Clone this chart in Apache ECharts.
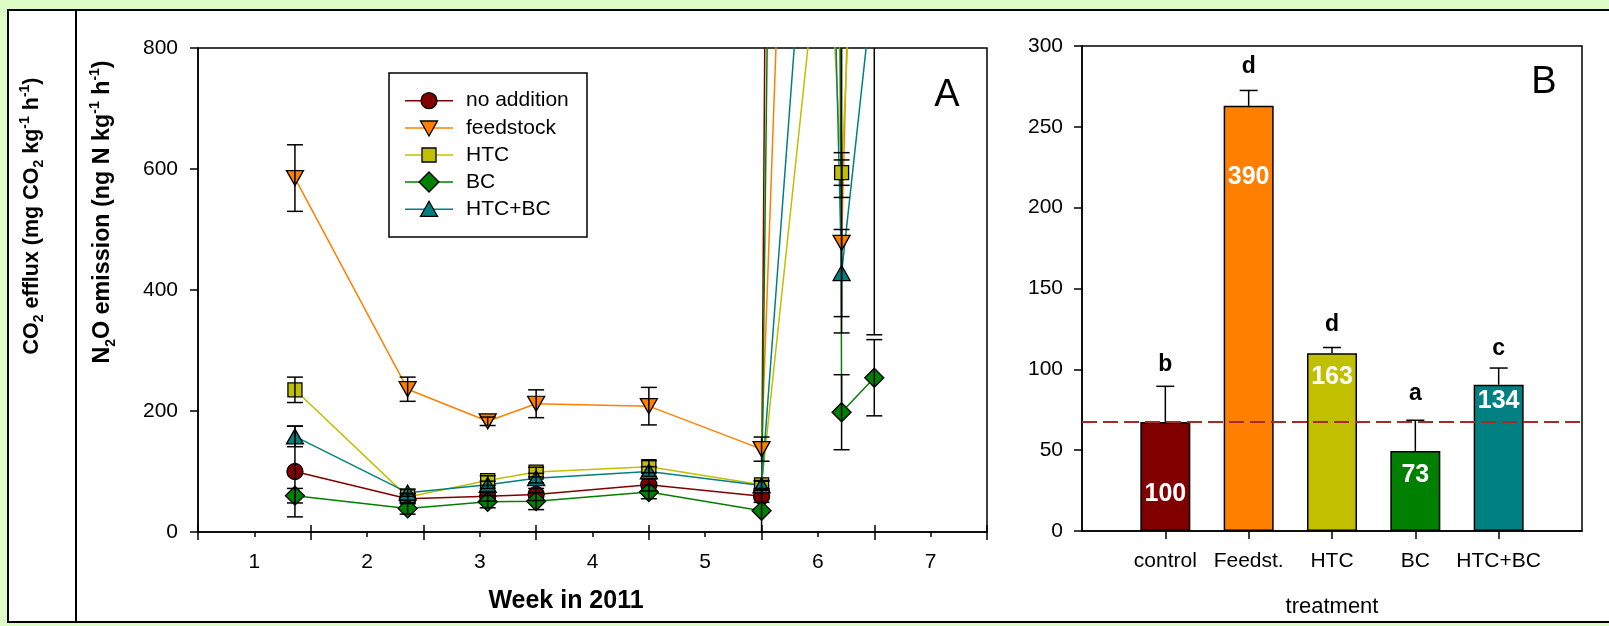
<!DOCTYPE html>
<html>
<head>
<meta charset="utf-8">
<script src="https://cdn.jsdelivr.net/npm/echarts@6/dist/echarts.min.js"></script>
<style>
  html, body { margin: 0; padding: 0; background: #ddfcc6; }
  #chart { width: 1609px; height: 626px; }
</style>
</head>
<body>
<div id="chart"></div>
<script>
// ---------- Panel A: N2O emission over time ----------
const weeks = [1.36, 2.36, 3.07, 3.5, 4.5, 5.5, 6.07, 6.21, 6.5];
const weekTicks = [1, 2, 3, 4, 5, 6, 7];
const halfWeekTicks = [0.5, 1.5, 2.5, 3.5, 4.5, 5.5, 6.5, 7.5];
const n2oTicks = [0, 200, 400, 600, 800];

const seriesNames = ['no addition', 'feedstock', 'HTC', 'BC', 'HTC+BC'];
const noAddition    = [100, 55, 59, 62, 78, 59, 15000, 1150, 1000];
const feedstock     = [585, 236, 183, 212, 208, 137, 3100, 478, 2530];
const htc           = [235, 58, 85, 99, 108, 78, 1080, 594, 1760];
const bc            = [60, 39, 50, 51, 66, 35, 8900, 198, 255];
const htcBc         = [158, 65, 78, 89, 100, 77, 1500, 428, 924];

const noAdditionErr = [75, 8, 8, 10, 10, 10, 0, 597, 0];
const feedstockErr  = [55, 20, 7, 23, 31, 20, 0, 149, 0];
const htcErr        = [21, 6, 8, 8, 10, 6, 0, 21, 0];
const bcErr         = [12, 9.5, 10, 14, 11, 36, 0, 62, 63];
const htcBcErr      = [17, 6, 6, 8, 8, 8, 0, 72, 598];

// ---------- Panel B: CO2 efflux by treatment ----------
const treatments = ['control', 'Feedst.', 'HTC', 'BC', 'HTC+BC'];
const co2Mean    = [67.5, 263, 110, 49.5, 90.5];
const co2Err     = [22, 9.5, 3.5, 19, 10.3];
const relPercent = ['100', '390', '163', '73', '134'];
const sigLetters = ['b', 'd', 'd', 'a', 'c'];
const co2Ticks   = [0, 50, 100, 150, 200, 250, 300];

// ---------- styling ----------
const FONT = "'Liberation Sans', Arial, Helvetica, sans-serif";
const colors = ['#800000', '#ff8000', '#c0c000', '#008000', '#008080'];
const symbols = ['circle', 'triangle', 'rect', 'diamond', 'triangle'];
const symbolSizes = [16, [17, 15], 14, 19, [17, 15]];
const symbolRotates = [0, 180, 0, 0, 0];
const pctDrop = [72, 71, 24, 24, 16];      // px below bar top for the percentage label
const letterLift = [22, 24, 23, 27, 19];   // px above error cap for the letter centre

const n2oSeries = [noAddition, feedstock, htc, bc, htcBc];
const n2oErrors = [noAdditionErr, feedstockErr, htcErr, bcErr, htcBcErr];

const chart = echarts.init(document.getElementById('chart'), null, { renderer: 'canvas' });

const axisLine = { show: true, lineStyle: { color: '#000', width: 1.5 } };
const tickLabel = { color: '#000', fontSize: 21, fontFamily: FONT };

// error bars for panel A: [week, value, halfWidth]
const errData = [];
n2oSeries.forEach((vals, s) => {
  vals.forEach((v, i) => {
    if (n2oErrors[s][i] > 0) errData.push([weeks[i], v, n2oErrors[s][i]]);
  });
});

function errorBarItem(params, api) {
  const x = api.value(0), y = api.value(1), e = api.value(2);
  const hi = api.coord([x, y + e]);
  const lo = api.coord([x, y - e]);
  const hw = 8;
  const st = { stroke: '#000', lineWidth: 1.5 };
  return {
    type: 'group',
    children: [
      { type: 'line', shape: { x1: hi[0], y1: hi[1], x2: lo[0], y2: lo[1] }, style: st },
      { type: 'line', shape: { x1: hi[0] - hw, y1: hi[1], x2: hi[0] + hw, y2: hi[1] }, style: st },
      { type: 'line', shape: { x1: lo[0] - hw, y1: lo[1], x2: lo[0] + hw, y2: lo[1] }, style: st }
    ]
  };
}

function barAnnotation(params, api) {
  const i = params.dataIndex;
  const pos = api.value(0), mean = api.value(1), err = api.value(2);
  const top = api.coord([pos, mean]);
  const cap = api.coord([pos, mean + err]);
  const st = { stroke: '#000', lineWidth: 1.5 };
  return {
    type: 'group',
    children: [
      { type: 'line', shape: { x1: top[0], y1: top[1], x2: cap[0], y2: cap[1] }, style: st },
      { type: 'line', shape: { x1: cap[0] - 9, y1: cap[1], x2: cap[0] + 9, y2: cap[1] }, style: st },
      { type: 'text', x: cap[0], y: cap[1] - letterLift[i],
        style: { text: sigLetters[i], fill: '#000', font: 'bold 23px ' + FONT, align: 'center', verticalAlign: 'middle' } },
      { type: 'text', x: top[0], y: top[1] + pctDrop[i],
        style: { text: relPercent[i], fill: '#fff', font: 'bold 25px ' + FONT, align: 'center', verticalAlign: 'middle' } }
    ]
  };
}

const lineSeries = seriesNames.map((name, s) => ({
  name,
  type: 'line',
  xAxisIndex: 0,
  yAxisIndex: 0,
  data: weeks.map((w, i) => [w, n2oSeries[s][i]]),
  clip: true,
  z: 3,
  symbol: symbols[s],
  symbolSize: symbolSizes[s],
  symbolRotate: symbolRotates[s],
  showSymbol: true,
  color: colors[s],
  lineStyle: { color: colors[s], width: 1.5 },
  itemStyle: { color: colors[s], borderColor: '#000', borderWidth: 1.3 },
  emphasis: { disabled: true }
}));

// rich-text pieces for the rotated axis titles
function titleRich(size) {
  return {
    b:   { fontSize: size, fontWeight: 'bold', fontFamily: FONT, lineHeight: size + 6, fill: '#000' },
    sub: { fontSize: 14, fontWeight: 'bold', fontFamily: FONT, lineHeight: 14, verticalAlign: 'bottom', fill: '#000' },
    sup: { fontSize: 14, fontWeight: 'bold', fontFamily: FONT, lineHeight: 14, verticalAlign: 'top', fill: '#000' }
  };
}

// manual legend for panel A
const legendRows = [100.7, 128, 155, 182, 209.3];
const legendChildren = [
  { type: 'rect', shape: { x: 389, y: 73, width: 198, height: 164 },
    style: { fill: '#fff', stroke: '#000', lineWidth: 1.5 } }
];
seriesNames.forEach((name, s) => {
  const y = legendRows[s], cx = 429;
  legendChildren.push({ type: 'line', shape: { x1: 405, y1: y, x2: 453, y2: y },
    style: { stroke: colors[s], lineWidth: 1.5 } });
  const mk = { fill: colors[s], stroke: '#000', lineWidth: 1.3 };
  let shape;
  if (s === 0) shape = { type: 'circle', shape: { cx, cy: y, r: 8 }, style: mk };
  else if (s === 1) shape = { type: 'polygon', shape: { points: [[cx - 8.5, y - 7], [cx + 8.5, y - 7], [cx, y + 8]] }, style: mk };
  else if (s === 2) shape = { type: 'rect', shape: { x: cx - 7, y: y - 7, width: 14, height: 14 }, style: mk };
  else if (s === 3) shape = { type: 'polygon', shape: { points: [[cx, y - 10], [cx + 10, y], [cx, y + 10], [cx - 10, y]] }, style: mk };
  else shape = { type: 'polygon', shape: { points: [[cx, y - 8], [cx + 8.5, y + 7], [cx - 8.5, y + 7]] }, style: mk };
  legendChildren.push(shape);
  legendChildren.push({ type: 'text', x: 466, y,
    style: { text: name, fill: '#000', font: '21px ' + FONT, verticalAlign: 'middle' } });
});

const option = {
  animation: false,
  backgroundColor: '#ddfcc6',
  grid: [
    { left: 198, top: 48, width: 789, height: 484, show: true, borderColor: '#000', borderWidth: 1.5, backgroundColor: 'transparent' },
    { left: 1082, top: 46, width: 500, height: 485, show: true, borderColor: '#000', borderWidth: 1.5, backgroundColor: 'transparent' }
  ],
  xAxis: [
    { type: 'value', gridIndex: 0, position: 'bottom', min: 0.5, max: 7.5,
      axisLine, splitLine: { show: false },
      axisTick: { show: true, customValues: weekTicks, length: 5, lineStyle: { color: '#000', width: 1.5 } },
      axisLabel: { ...tickLabel, customValues: weekTicks, margin: 20 } },
    { type: 'value', gridIndex: 0, position: 'bottom', min: 0.5, max: 7.5,
      axisLine: { show: false }, splitLine: { show: false }, axisLabel: { show: false },
      axisTick: { show: true, customValues: halfWeekTicks, length: 8, lineStyle: { color: '#000', width: 1.5 } } },
    { type: 'value', gridIndex: 0, position: 'bottom', min: 0.5, max: 7.5,
      axisLine: { show: false }, splitLine: { show: false }, axisLabel: { show: false },
      axisTick: { show: true, inside: true, customValues: halfWeekTicks, length: 7, lineStyle: { color: '#000', width: 1.5 } } },
    { type: 'value', gridIndex: 1, position: 'bottom', min: 0, max: 6,
      axisLine, splitLine: { show: false },
      axisTick: { show: true, customValues: [1, 2, 3, 4, 5], length: 8, lineStyle: { color: '#000', width: 1.5 } },
      axisLabel: { ...tickLabel, customValues: [1, 2, 3, 4, 5], margin: 20,
        formatter: v => treatments[Math.round(v) - 1] || '' } }
  ],
  yAxis: [
    { type: 'value', gridIndex: 0, min: 0, max: 800, interval: 200,
      axisLine, splitLine: { show: false },
      axisTick: { show: true, length: 8, lineStyle: { color: '#000', width: 1.5 } },
      axisLabel: { ...tickLabel, margin: 20, customValues: n2oTicks } },
    { type: 'value', gridIndex: 1, min: 0, max: 300, interval: 50,
      axisLine, splitLine: { show: false },
      axisTick: { show: true, length: 8, lineStyle: { color: '#000', width: 1.5 } },
      axisLabel: { ...tickLabel, margin: 19, customValues: co2Ticks } }
  ],
  series: [
    { type: 'custom', name: 'n2o error', xAxisIndex: 0, yAxisIndex: 0, clip: true, z: 4,
      renderItem: errorBarItem, data: errData, encode: { x: 0, y: 1 }, silent: true },
    ...lineSeries,
    { type: 'bar', name: 'CO2 efflux', xAxisIndex: 3, yAxisIndex: 1, barWidth: 50, z: 2,
      data: co2Mean.map((v, i) => ({ value: [i + 1, v],
        itemStyle: { color: colors[i], borderColor: '#000', borderWidth: 1.5 } })),
      markLine: { silent: true, symbol: 'none', animation: false,
        label: { show: false },
        lineStyle: { color: '#a52a2a', width: 2, type: [15, 6] },
        data: [{ yAxis: co2Mean[0] }] },
      emphasis: { disabled: true } },
    { type: 'custom', name: 'co2 annotation', xAxisIndex: 3, yAxisIndex: 1, z: 5,
      renderItem: barAnnotation, silent: true, encode: { x: 0, y: 1 },
      data: co2Mean.map((v, i) => [i + 1, v, co2Err[i]]) }
  ],
  graphic: [
    { type: 'rect', z: -10, shape: { x: 8, y: 10, width: 1700, height: 612 },
      style: { fill: '#fff', stroke: '#000', lineWidth: 2 } },
    { type: 'line', z: -9, shape: { x1: 76, y1: 10, x2: 76, y2: 622 },
      style: { stroke: '#000', lineWidth: 2 } },
    { type: 'text', x: 32, y: 216, rotation: Math.PI / 2,
      style: { text: '{b|CO}{sub|2}{b| efflux (mg CO}{sub|2}{b| kg}{sup|-1}{b| h}{sup|-1}{b|)}',
        rich: titleRich(21.5), align: 'center', verticalAlign: 'middle' } },
    { type: 'text', x: 103, y: 212, rotation: Math.PI / 2,
      style: { text: '{b|N}{sub|2}{b|O emission (ng N kg}{sup|-1}{b| h}{sup|-1}{b|)}',
        rich: titleRich(23.3), align: 'center', verticalAlign: 'middle' } },
    { type: 'text', x: 566, y: 601,
      style: { text: 'Week in 2011', fill: '#000', font: 'bold 25px ' + FONT, align: 'center', verticalAlign: 'middle' } },
    { type: 'text', x: 1332, y: 607,
      style: { text: 'treatment', fill: '#000', font: '22px ' + FONT, align: 'center', verticalAlign: 'middle' } },
    { type: 'text', x: 947, y: 96,
      style: { text: 'A', fill: '#000', font: '38px ' + FONT, align: 'center', verticalAlign: 'middle' } },
    { type: 'text', x: 1544, y: 83,
      style: { text: 'B', fill: '#000', font: '38px ' + FONT, align: 'center', verticalAlign: 'middle' } },
    { type: 'group', z: 10, children: legendChildren }
  ]
};

chart.setOption(option);
</script>
</body>
</html>
